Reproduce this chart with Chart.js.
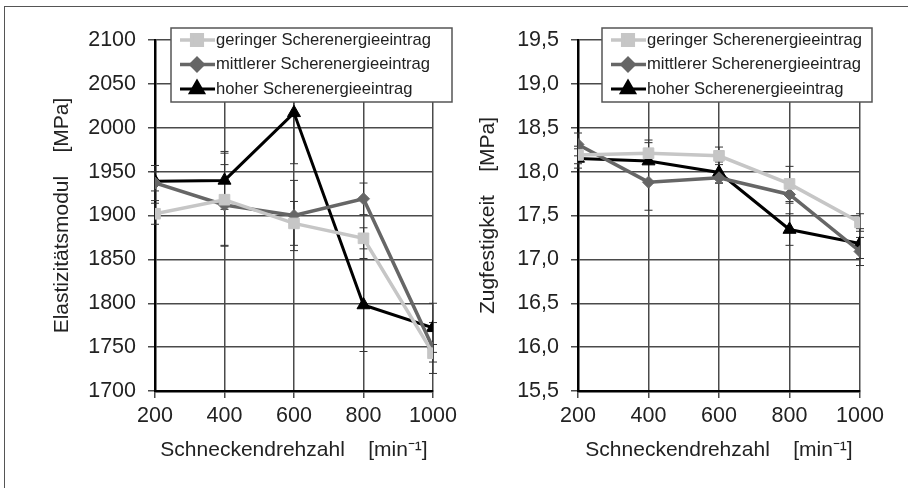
<!DOCTYPE html>
<html>
<head>
<meta charset="utf-8">
<script src="https://cdn.jsdelivr.net/npm/chart.js@4.4.1/dist/chart.umd.min.js"></script>
<style>
  body { margin: 0; background: #fff; }
  #frame { position: absolute; left: 4px; top: 6px; width: 920px; height: 500px;
           border-top: 1.5px solid #555; border-left: 1.5px solid #555; }
  #c1 { position: absolute; left: 0; top: 0; }
  #c2 { position: absolute; left: 454px; top: 0; }
</style>
</head>
<body>
<div id="frame"></div>
<canvas id="c1" width="480" height="488"></canvas>
<canvas id="c2" width="454" height="488"></canvas>
<script>
  'use strict'

  var drehzahl = [200, 400, 600, 800, 1000]
  var serien = ['geringer Scherenergieeintrag', 'mittlerer Scherenergieeintrag', 'hoher Scherenergieeintrag']

  // Elastizitaetsmodul [MPa]
  var emodGering = [1902, 1918, 1891, 1874, 1743]
  var emodMittel = [1937, 1912, 1900, 1919, 1749]
  var emodHoch = [1939, 1940, 2017, 1798, 1772]
  var emodGeringErr = [12, 53, 25, 12, 10]
  var emodMittelErr = [20, 46, 40, 18, 29]
  var emodHochErr = [11, 33, 58, 53, 28]

  // Zugfestigkeit [MPa]
  var zugGering = [18.19, 18.21, 18.18, 17.86, 17.42]
  var zugMittel = [18.31, 17.88, 17.93, 17.74, 17.09]
  var zugHoch = [18.15, 18.12, 17.99, 17.34, 17.18]
  var zugGeringErr = [0.1, 0.12, 0.1, 0.2, 0.1]
  var zugMittelErr = [0.13, 0.32, 0.06, 0.1, 0.16]
  var zugHochErr = [0.11, 0.24, 0.12, 0.18, 0.17]

  var FONT = 'Liberation Sans, Arial, sans-serif'

  function pts (vals) {
    return vals.map(function (v, i) { return { x: drehzahl[i], y: vals[i] } })
  }

  var stile = [
    { borderColor: '#c6c6c6', backgroundColor: '#c6c6c6', pointStyle: 'rect', pointRadius: 7.5, borderWidth: 3.5 },
    { borderColor: '#666666', backgroundColor: '#666666', pointStyle: 'rectRot', pointRadius: 6, borderWidth: 3.5 },
    { borderColor: '#000000', backgroundColor: '#000000', pointStyle: 'triangle', pointRadius: 7.5, borderWidth: 3 }
  ]

  function datasets (reihen, fehler) {
    return reihen.map(function (r, i) {
      var s = stile[i]
      return {
        label: serien[i],
        data: pts(r),
        errors: fehler[i],
        borderColor: s.borderColor,
        backgroundColor: s.backgroundColor,
        borderWidth: s.borderWidth,
        pointStyle: s.pointStyle,
        pointRadius: s.pointRadius,
        pointBorderWidth: 1,
        pointHoverRadius: s.pointRadius,
        tension: 0
      }
    })
  }

  var errorBars = {
    id: 'errorBars',
    beforeDatasetsDraw: function (chart) {
      var ctx = chart.ctx
      var ys = chart.scales.y
      var xs = chart.scales.x
      ctx.save()
      ctx.strokeStyle = '#333'
      ctx.lineWidth = 1
      chart.data.datasets.forEach(function (ds) {
        ds.data.forEach(function (p, i) {
          var e = ds.errors[i]
          var x = xs.getPixelForValue(p.x)
          var y1 = ys.getPixelForValue(p.y + e)
          var y2 = ys.getPixelForValue(p.y - e)
          ctx.beginPath()
          ctx.moveTo(x, y1); ctx.lineTo(x, y2)
          ctx.moveTo(x - 4, y1); ctx.lineTo(x + 4, y1)
          ctx.moveTo(x - 4, y2); ctx.lineTo(x + 4, y2)
          ctx.stroke()
        })
      })
      ctx.restore()
    }
  }

  var boxLegend = {
    id: 'boxLegend',
    afterDraw: function (chart, args, opts) {
      var ctx = chart.ctx
      var a = chart.chartArea
      var bx = a.left + opts.dx
      var by = a.top - 12
      ctx.save()
      ctx.fillStyle = '#fff'
      ctx.fillRect(bx, by, opts.width, 74)
      ctx.strokeStyle = '#555'
      ctx.lineWidth = 1.5
      ctx.strokeRect(bx, by, opts.width, 74)
      chart.data.datasets.forEach(function (ds, i) {
        var y = by + 12 + i * 24.5
        ctx.strokeStyle = ds.borderColor
        ctx.lineWidth = ds.borderWidth
        ctx.beginPath()
        ctx.moveTo(bx + 9, y); ctx.lineTo(bx + 44, y)
        ctx.stroke()
        ctx.fillStyle = ds.backgroundColor
        ctx.strokeStyle = ds.borderColor
        Chart.helpers.drawPoint(ctx, { pointStyle: ds.pointStyle, radius: ds.pointRadius, rotation: 0, borderWidth: 1 }, bx + 26, y)
        ctx.fillStyle = '#222'
        ctx.font = '16.6px ' + FONT
        ctx.textBaseline = 'middle'
        ctx.textAlign = 'left'
        ctx.fillText(ds.label, bx + 45, y)
      })
      ctx.restore()
    }
  }

  function config (ds, yMin, yMax, yStep, yTitle, yWidth, yTitlePad, padRight, legendDx, legendW, fmt) {
    return {
      type: 'line',
      data: { datasets: ds },
      plugins: [errorBars, boxLegend],
      options: {
        responsive: false,
        animation: false,
        layout: { padding: { left: 0, top: 40, right: padRight, bottom: 0 } },
        plugins: {
          legend: { display: false },
          tooltip: { enabled: false },
          boxLegend: { dx: legendDx, width: legendW }
        },
        scales: {
          x: {
            type: 'linear',
            min: 200,
            max: 1000,
            afterFit: function (s) { s.height = 97 },
            ticks: {
              stepSize: 200,
              color: '#222',
              padding: 5,
              font: { size: 21.5, family: FONT },
              callback: function (v) { return String(v) }
            },
            grid: { color: '#4a4a4a', lineWidth: 1.5, tickLength: 7 },
            border: { color: '#000', width: 2.5 },
            title: {
              display: true,
              text: 'Schneckendrehzahl    [min\u207B\u00B9]',
              color: '#222',
              font: { size: 21, family: FONT },
              padding: { top: 0, bottom: 25 }
            }
          },
          y: {
            min: yMin,
            max: yMax,
            afterFit: function (s) { s.width = yWidth },
            ticks: {
              stepSize: yStep,
              color: '#222',
              padding: 12,
              font: { size: 21.5, family: FONT },
              callback: fmt
            },
            grid: { color: '#4a4a4a', lineWidth: 1.5, tickLength: 7 },
            border: { color: '#000', width: 2.5 },
            title: {
              display: true,
              text: yTitle,
              color: '#222',
              font: { size: 21, family: FONT },
              padding: { top: yTitlePad, bottom: 0 }
            }
          }
        }
      }
    }
  }

  new Chart(document.getElementById('c1'), config(
    datasets([emodGering, emodMittel, emodHoch], [emodGeringErr, emodMittelErr, emodHochErr]),
    1700, 2100, 50, 'Elastizit\u00E4tsmodul    [MPa]', 155, 50, 47, 16, 281,
    function (v) { return String(v) }
  ))

  new Chart(document.getElementById('c2'), config(
    datasets([zugGering, zugMittel, zugHoch], [zugGeringErr, zugMittelErr, zugHochErr]),
    15.5, 19.5, 0.5, 'Zugfestigkeit    [MPa]', 124, 22, 48, 24, 270,
    function (v) { return v.toFixed(1).replace('.', ',') }
  ))
</script>
</body>
</html>
